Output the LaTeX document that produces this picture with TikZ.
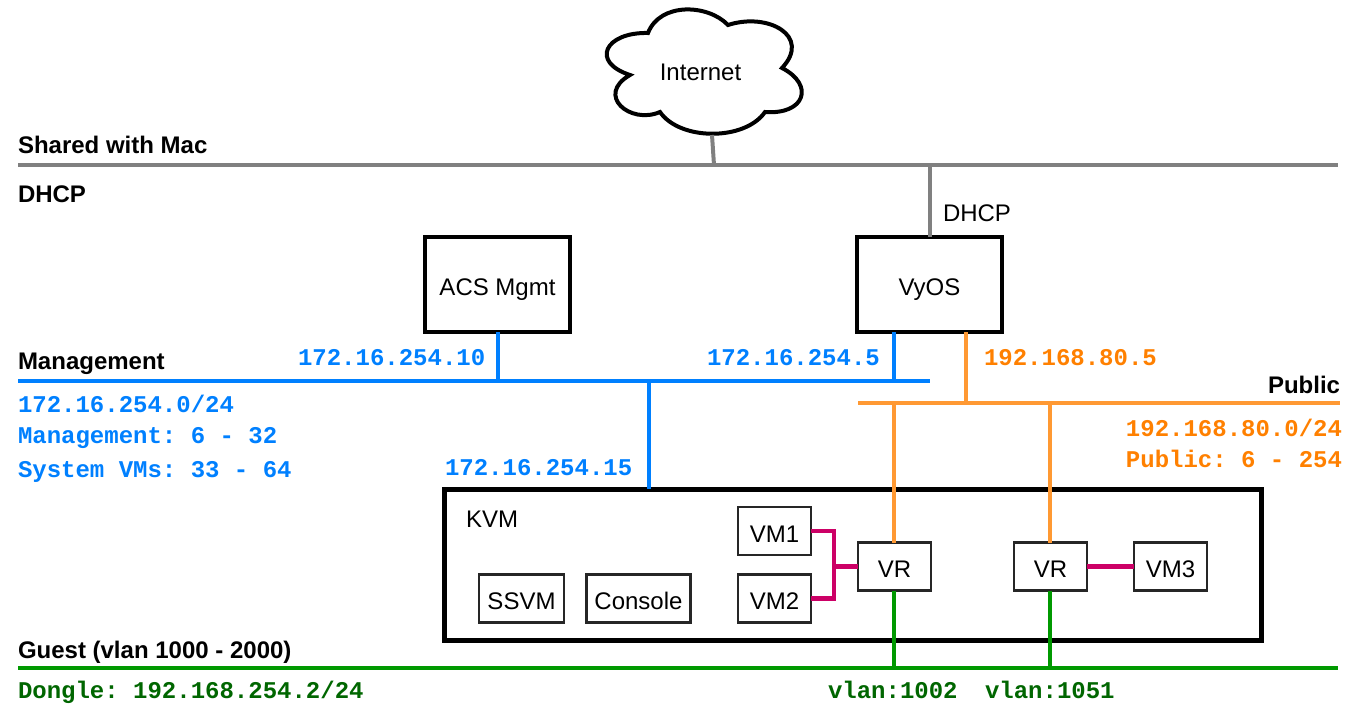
\documentclass[tikz,border=0pt]{standalone}
\usepackage{fontspec}
\setmainfont{Liberation Sans}
\newfontfamily\monob{Liberation Mono}
\definecolor{netgray}{HTML}{808080}
\definecolor{netblue}{HTML}{0080FF}
\definecolor{netorange}{HTML}{FF9933}
\definecolor{txtorange}{HTML}{FF8000}
\definecolor{netgreen}{HTML}{009900}
\definecolor{txtgreen}{HTML}{006600}
\definecolor{netpink}{HTML}{CC0066}
\tikzset{
  lbl/.style={inner sep=0pt,outer sep=0pt,font=\frenchspacing\fontsize{24}{28}\selectfont},
  lblw/.style={lbl,anchor=base west},
  head/.style={lblw,font=\frenchspacing\fontsize{24}{28}\selectfont\bfseries},
  ipblue/.style={lblw,text=netblue,font=\frenchspacing\fontsize{24}{28}\selectfont\monob\bfseries},
  iporange/.style={lblw,text=txtorange,font=\frenchspacing\fontsize{24}{28}\selectfont\monob\bfseries},
  ipgreen/.style={lblw,text=txtgreen,font=\frenchspacing\fontsize{24}{28}\selectfont\monob\bfseries},
  bigbox/.style={draw=black,fill=white,line width=4pt,inner sep=0pt,outer sep=0pt,text height=21pt,text depth=0pt,font=\fontsize{24}{28}\selectfont},
  smallbox/.style={draw=black!85,fill=white,line width=2.6pt,inner sep=0pt,outer sep=0pt,minimum height=48pt,text height=22pt,text depth=0pt,font=\fontsize{24}{28}\selectfont},
  linkgray/.style={draw=netgray,line width=4.5pt},
  linkblue/.style={draw=netblue,line width=4.5pt},
  linkorange/.style={draw=netorange,line width=4.5pt},
  linkgreen/.style={draw=netgreen,line width=4.5pt},
  linkpink/.style={draw=netpink,line width=4.5pt},
}
\begin{document}
\begin{tikzpicture}[x=1pt,y=-1pt]
\useasboundingbox (0,0) rectangle (1358,712);
% bus end points
\coordinate (sharedL) at (18,165);
\coordinate (sharedR) at (1338,165);
\coordinate (mgmtL) at (18,381);
\coordinate (mgmtR) at (930,381);
\coordinate (pubL) at (858,403);
\coordinate (pubR) at (1340,403);
\coordinate (guestL) at (18,668);
\coordinate (guestR) at (1338,668);
\coordinate (cloudfoot) at (712,135);
\coordinate (cloudbus) at (714,165);
\coordinate (vyosbus) at (930,165);
\coordinate (acsbus) at (498,381);
\coordinate (vyosmg) at (894,381);
\coordinate (kvmbus) at (649,381);
\coordinate (vyospub) at (966,403);
\coordinate (vrApub) at (894,403);
\coordinate (vrBpub) at (1050,403);
\coordinate (vrAg) at (894,668);
\coordinate (vrBg) at (1050,668);
\coordinate (pinkjoin) at (834,566.5);
% cloud
\draw[line width=4pt,fill=white,line join=miter]
  (648,33) .. controls (660,2) and (708,4) .. (728,25)
  .. controls (768,12) and (812,36) .. (782,68)
  .. controls (815,85) and (805,115) .. (765,112)
  .. controls (745,141) and (680,141) .. (660,112)
  .. controls (630,125) and (595,95) .. (630,75)
  .. controls (590,62) and (605,32) .. (648,33) -- cycle;
\node[lbl] (internet) at (700.5,72) {Internet};
% buses
\draw[linkgray] (sharedL) -- (sharedR);
\draw[linkblue] (mgmtL) -- (mgmtR);
\draw[linkorange] (pubL) -- (pubR);
\draw[linkgreen] (guestL) -- (guestR);
% big boxes
\node[bigbox,minimum width=145pt,minimum height=95pt] (acs) at (497.5,284.5) {ACS Mgmt};
\node[bigbox,minimum width=145pt,minimum height=95pt] (vyos) at (929.5,284.5) {VyOS};
\node[bigbox,line width=5pt,minimum width=817pt,minimum height=151pt] (kvm) at (852.5,564.5) {};
% small boxes
\node[smallbox,minimum width=73pt] (vm1) at (774.5,531) {VM1};
\node[smallbox,minimum width=73pt] (vm2) at (774.5,598.5) {VM2};
\node[smallbox,minimum width=85pt] (ssvm) at (521.5,598.5) {SSVM};
\node[smallbox,minimum width=104pt] (console) at (638.5,598.5) {Console};
\node[smallbox,minimum width=73pt] (vrA) at (894.5,566.5) {VR};
\node[smallbox,minimum width=73pt] (vrB) at (1050.5,566.5) {VR};
\node[smallbox,minimum width=73pt] (vm3) at (1170.5,566.5) {VM3};
% stems
\draw[linkgray,line width=4pt] (cloudfoot) -- (cloudbus);
\draw[linkgray] (vyos.north -| vyosbus) -- (vyosbus);
\draw[linkblue] (acs.south -| acsbus) -- (acsbus);
\draw[linkblue] (vyos.south -| vyosmg) -- (vyosmg);
\draw[linkblue] (kvmbus) -- (kvm.north -| kvmbus);
\draw[linkorange] (vyos.south -| vyospub) -- (vyospub);
\draw[linkorange] (vrApub) -- (vrA.north -| vrApub);
\draw[linkorange] (vrBpub) -- (vrB.north -| vrBpub);
\draw[linkgreen] (vrA.south -| vrAg) -- (vrAg);
\draw[linkgreen] (vrB.south -| vrBg) -- (vrBg);
\draw[linkpink,line join=miter] (vm1.east) -- (vm1.east -| pinkjoin) -- (vm2.east -| pinkjoin) -- (vm2.east);
\draw[linkpink] (pinkjoin) -- (vrA.west);
\draw[linkpink] (vrB.east) -- (vm3.west);
% labels
\node[head] (shared) at (18,153) {Shared with Mac};
\node[head] (dhcpb) at (18,202) {DHCP};
\node[lblw] (dhcpn) at (943,221) {DHCP};
\node[head] (mgmt) at (18,369) {Management};
\node[head,anchor=base east] (public) at (1340,393) {Public};
\node[head] (guest) at (18,658) {Guest (vlan 1000 - 2000)};
\node[lblw] (kvmt) at (466,527) {KVM};
\node[ipblue] (ip10) at (298,365) {172.16.254.10};
\node[ipblue] (ip5) at (707,365) {172.16.254.5};
\node[iporange] (ip80) at (984,365) {192.168.80.5};
\node[ipblue] (net) at (18,412) {172.16.254.0/24};
\node[ipblue] (mrange) at (18,443) {Management: 6 - 32};
\node[ipblue] (srange) at (18,477) {System VMs: 33 - 64};
\node[ipblue] (ip15) at (445,475) {172.16.254.15};
\node[iporange,anchor=base east] (pnet) at (1342,436) {192.168.80.0/24};
\node[iporange,anchor=base east] (prange) at (1342,467) {Public: 6 - 254};
\node[ipgreen] (dongle) at (18,698) {Dongle: 192.168.254.2/24};
\node[ipgreen] (vl1) at (828,698) {vlan:1002};
\node[ipgreen] (vl2) at (985,698) {vlan:1051};
\end{tikzpicture}
\end{document}
